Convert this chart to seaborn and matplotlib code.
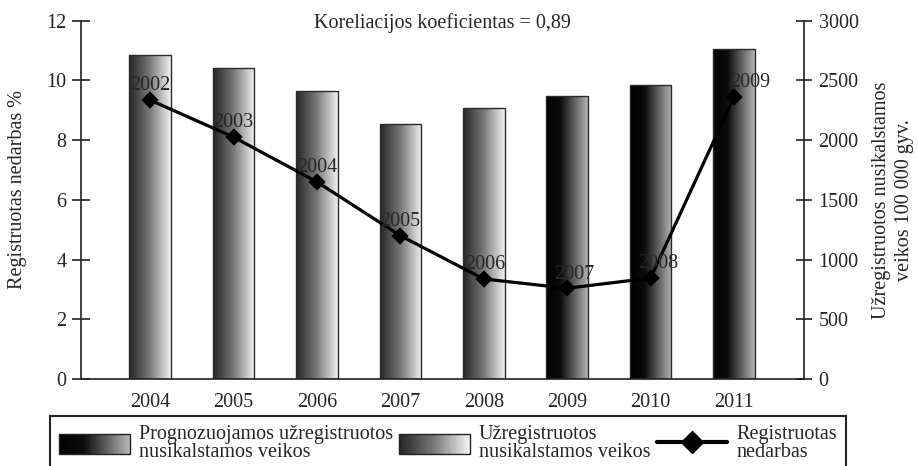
import numpy as np
import pandas as pd
import matplotlib
matplotlib.use("Agg")
import matplotlib.pyplot as plt
import seaborn as sns
from matplotlib.colors import LinearSegmentedColormap
from matplotlib.patches import Rectangle
from matplotlib.lines import Line2D
from matplotlib.legend_handler import HandlerBase

# data
years = ['2004', '2005', '2006', '2007', '2008', '2009', '2010', '2011']
crimes = [2711, 2608, 2413, 2131, 2271, 2371, 2460, 2762]
forecast = [False, False, False, False, False, True, True, True]
unemp = [9.34, 8.10, 6.60, 4.80, 3.35, 3.04, 3.38, 9.44]
unemp_years = ['2002', '2003', '2004', '2005', '2006', '2007', '2008', '2009']
label_dx = [0, 0, 0, 0, 1, 7, 8, 16]

title = 'Koreliacijos koeficientas = 0,89'
left_label = 'Registruotas nedarbas %'
right_label = 'Užregistruotos nusikalstamos\nveikos 100 000 gyv.'
legend_labels = ['Prognozuojamos užregistruotos\nnusikalstamos veikos',
                 'Užregistruotos\nnusikalstamos veikos',
                 'Registruotas\nnedarbas']

df = pd.DataFrame({'year': years, 'crimes': crimes, 'forecast': forecast})
df_u = pd.DataFrame({'year': years, 'unemp': unemp, 'lbl': unemp_years})

FS = 14.5
sns.set_style('ticks')
plt.rcParams['font.family'] = ['Liberation Serif', 'DejaVu Serif']
plt.rcParams['font.size'] = FS

cm_light = LinearSegmentedColormap.from_list('light', ['#262626', '#7a7a7a', '#f2f2f2'])
cm_dark = LinearSegmentedColormap.from_list('dark', [(0, '#000000'), (0.35, '#0c0c0c'), (1, '#b4b4b4')])

fig = plt.figure(figsize=(9.18, 4.66), dpi=100)
ax1 = fig.add_axes([81 / 918, 87 / 466, 723 / 918, 358.3 / 466])
ax2 = ax1.twinx()

sns.barplot(data=df, x='year', y='crimes', ax=ax2, color='white', width=0.5,
            edgecolor='#2a2a2a', linewidth=1.0)
grad = np.linspace(0, 1, 256).reshape(1, -1)
for patch, fc in zip(ax2.patches, df['forecast']):
    patch.set_facecolor('none')
    x0, y0 = patch.get_x(), patch.get_y()
    w, h = patch.get_width(), patch.get_height()
    im = ax2.imshow(grad, cmap=cm_dark if fc else cm_light, aspect='auto',
                    extent=(x0, x0 + w, y0, y0 + h), zorder=patch.get_zorder() - 0.1)
    im.set_clip_path(patch)

sns.pointplot(data=df_u, x='year', y='unemp', ax=ax1, color='black', markers='D',
              markersize=7, linewidth=2.3, errorbar=None)
for i, (v, lbl) in enumerate(zip(df_u['unemp'], df_u['lbl'])):
    ax1.annotate(lbl, (i, v), xytext=(label_dx[i] * 0.72, 7), textcoords='offset points',
                 ha='center', va='baseline', fontsize=FS)

ax1.set_zorder(ax2.get_zorder() + 1)
ax1.patch.set_visible(False)

ax1.set_xlim(-0.83, 7.84)
ax1.set_ylim(0, 12)
ax2.set_ylim(0, 3000)
ax1.set_yticks(range(0, 13, 2))
ax2.set_yticks(range(0, 3001, 500))

for a in (ax1, ax2):
    for s in a.spines.values():
        s.set_color('#222222')
        s.set_linewidth(1.2)
    a.spines['top'].set_visible(False)
ax1.spines['right'].set_visible(False)
ax2.spines['left'].set_visible(False)
ax2.spines['bottom'].set_visible(False)

ax1.tick_params(axis='x', length=0, pad=10, labelsize=FS)
ax1.tick_params(axis='y', direction='inout', length=13, width=1.2, color='#222222', pad=4, labelsize=FS)
ax2.tick_params(axis='y', direction='inout', length=11, width=1.2, color='#222222', pad=5, labelsize=FS)

ax1.set_xlabel('')
ax1.set_ylabel(left_label, fontsize=FS)
ax1.yaxis.set_label_coords(-0.074, 0.53)
ax2.set_ylabel(right_label, fontsize=FS, linespacing=1.3)
ax2.yaxis.set_label_coords(1.094, 0.5)

ax1.text(0.5, (358.3 - 7) / 358.3, title, transform=ax1.transAxes, ha='center',
         va='baseline', fontsize=FS)


class GradientHandler(HandlerBase):
    def __init__(self, cmap, n=50):
        super().__init__()
        self.cmap = cmap
        self.n = n

    def create_artists(self, legend, orig_handle, xdescent, ydescent, width, height, fontsize, trans):
        arts = []
        step = width / self.n
        for i in range(self.n):
            arts.append(Rectangle((-xdescent + i * step, -ydescent), step * 1.1, height,
                                  facecolor=self.cmap(i / (self.n - 1)), edgecolor='none',
                                  transform=trans))
        arts.append(Rectangle((-xdescent, -ydescent), width, height, facecolor='none',
                              edgecolor='#222222', lw=1.0, transform=trans))
        return arts


h_dark = Rectangle((0, 0), 1, 1)
h_light = Rectangle((0, 0), 1, 1)
h_line = Line2D([], [], color='black', lw=3, marker='D', markersize=11)
leg = fig.legend([h_dark, h_light, h_line], legend_labels, loc='upper left',
                 bbox_to_anchor=(50 / 918, 1 - 416 / 466, (846 - 50) / 918, 0),
                 mode='expand', ncol=3, borderaxespad=0, fancybox=False,
                 edgecolor='#222222', framealpha=1, fontsize=FS,
                 handlelength=3.5, handleheight=1.1, handletextpad=0.45,
                 borderpad=0.45, columnspacing=1.0,
                 handler_map={h_dark: GradientHandler(cm_dark), h_light: GradientHandler(cm_light)})
leg.get_frame().set_linewidth(1.5)
for t in leg.get_texts():
    t.set_linespacing(0.95)

fig.savefig('out.png', dpi=100)
